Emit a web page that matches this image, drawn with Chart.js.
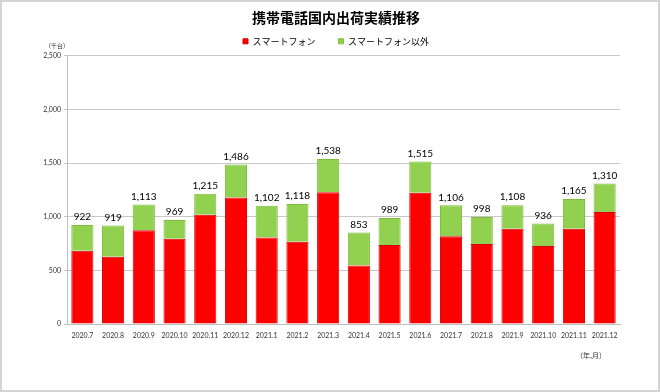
<!DOCTYPE html>
<html>
<head>
<meta charset="utf-8">
<script src="https://cdn.jsdelivr.net/npm/chart.js@4"></script>
<style>
  body { margin: 0; background: #fff; }
  #wrap { width: 660px; height: 392px; }
</style>
</head>
<body>
<div id="wrap"><canvas id="chart" width="660" height="392"></canvas></div>
<script>
const ctx = document.getElementById("chart");

const months = ["2020.7","2020.8","2020.9","2020.10","2020.11","2020.12","2021.1","2021.2","2021.3",
  "2021.4","2021.5","2021.6","2021.7","2021.8","2021.9","2021.10","2021.11","2021.12"];
const totals = [922, 919, 1113, 969, 1215, 1486, 1102, 1118, 1538, 853, 989, 1515, 1106, 998, 1108, 936, 1165, 1310];
const smartphone = [682, 627, 875, 794, 1018, 1180, 807, 767, 1229, 546, 736, 1223, 819, 745, 887, 726, 887, 1043];
const others = [];
for (let i = 0; i < totals.length; i++) {
  others.push(totals[i] - smartphone[i]);
}
const yTicks = [0, 500, 1000, 1500, 2000, 2500];

const jpFont = "'Noto Sans CJK JP', sans-serif";
const numFont = "Lato, 'Noto Sans', sans-serif";

// frame, units and totals on top of the bars
const extras = {
  id: "extras",
  beforeDraw(chart) {
    const c = chart.ctx;
    c.save();
    c.fillStyle = "#fff";
    c.fillRect(0, 0, chart.width, chart.height);
    c.strokeStyle = "#d4d4d4";
    c.lineWidth = 2;
    c.strokeRect(1, 1, chart.width - 2, chart.height - 2);
    c.restore();
  },
  afterDatasetsDraw(chart) {
    const c = chart.ctx;
    const meta = chart.getDatasetMeta(1);
    c.save();
    c.fillStyle = "#000";
    c.font = "10px " + numFont;
    c.textAlign = "center";
    c.textBaseline = "bottom";
    meta.data.forEach((bar, i) => {
      c.fillText(totals[i].toLocaleString("en-US"), bar.x, bar.y - 3);
    });
    c.fillStyle = "#333";
    c.textBaseline = "middle";
    c.font = "6px " + jpFont;
    c.fillText("（千台）", 57, 46);
    c.font = "7px " + jpFont;
    c.fillText("（年,月）", 591, 355);
    c.restore();
  }
};

new Chart(ctx, {
  type: "bar",
  data: {
    labels: months,
    datasets: [
      {
        label: "スマートフォン",
        data: smartphone,
        backgroundColor: "#ff0000",
        borderColor: "#d80000",
        borderWidth: 1,
        barPercentage: 0.72,
        categoryPercentage: 1
      },
      {
        label: "スマートフォン以外",
        data: others,
        backgroundColor: "#92d050",
        borderColor: "#7cbd3c",
        borderWidth: 1,
        barPercentage: 0.72,
        categoryPercentage: 1
      }
    ]
  },
  options: {
    responsive: false,
    animation: false,
    layout: { padding: { left: 24, right: 12, top: 0, bottom: 0 } },
    plugins: {
      title: {
        display: true,
        text: "携帯電話国内出荷実績推移",
        color: "#000",
        font: { family: jpFont, size: 14, weight: "bold" },
        padding: { top: 9, bottom: -12 }
      },
      legend: {
        display: true,
        labels: {
          color: "#000",
          font: { family: jpFont, size: 9 },
          boxWidth: 5,
          boxHeight: 5,
          padding: 23
        }
      },
      tooltip: { enabled: false }
    },
    scales: {
      x: {
        stacked: true,
        grid: { display: false },
        border: { color: "#bfbfbf", width: 1 },
        ticks: { color: "#333", font: { family: numFont, size: 7 }, maxRotation: 0, autoSkip: false, padding: 0 },
        afterFit(scale) { scale.height = 68; }
      },
      y: {
        stacked: true,
        min: 0,
        max: 2500,
        afterBuildTicks(scale) { scale.ticks = yTicks.map(v => ({ value: v })); },
        grid: { color: "#c8c8c8", lineWidth: 1, tickLength: 3 },
        border: { color: "#bfbfbf", width: 1 },
        ticks: {
          color: "#333",
          font: { family: numFont, size: 7 },
          padding: 3,
          callback: v => v.toLocaleString("en-US")
        },
        afterFit(scale) { scale.width = 43; }
      },
      // empty space on the right of the plot
      yRight: {
        position: "right",
        grid: { display: false },
        border: { display: false },
        ticks: { display: false },
        afterFit(scale) { scale.width = 28; }
      }
    }
  },
  plugins: [extras]
});
</script>
</body>
</html>
